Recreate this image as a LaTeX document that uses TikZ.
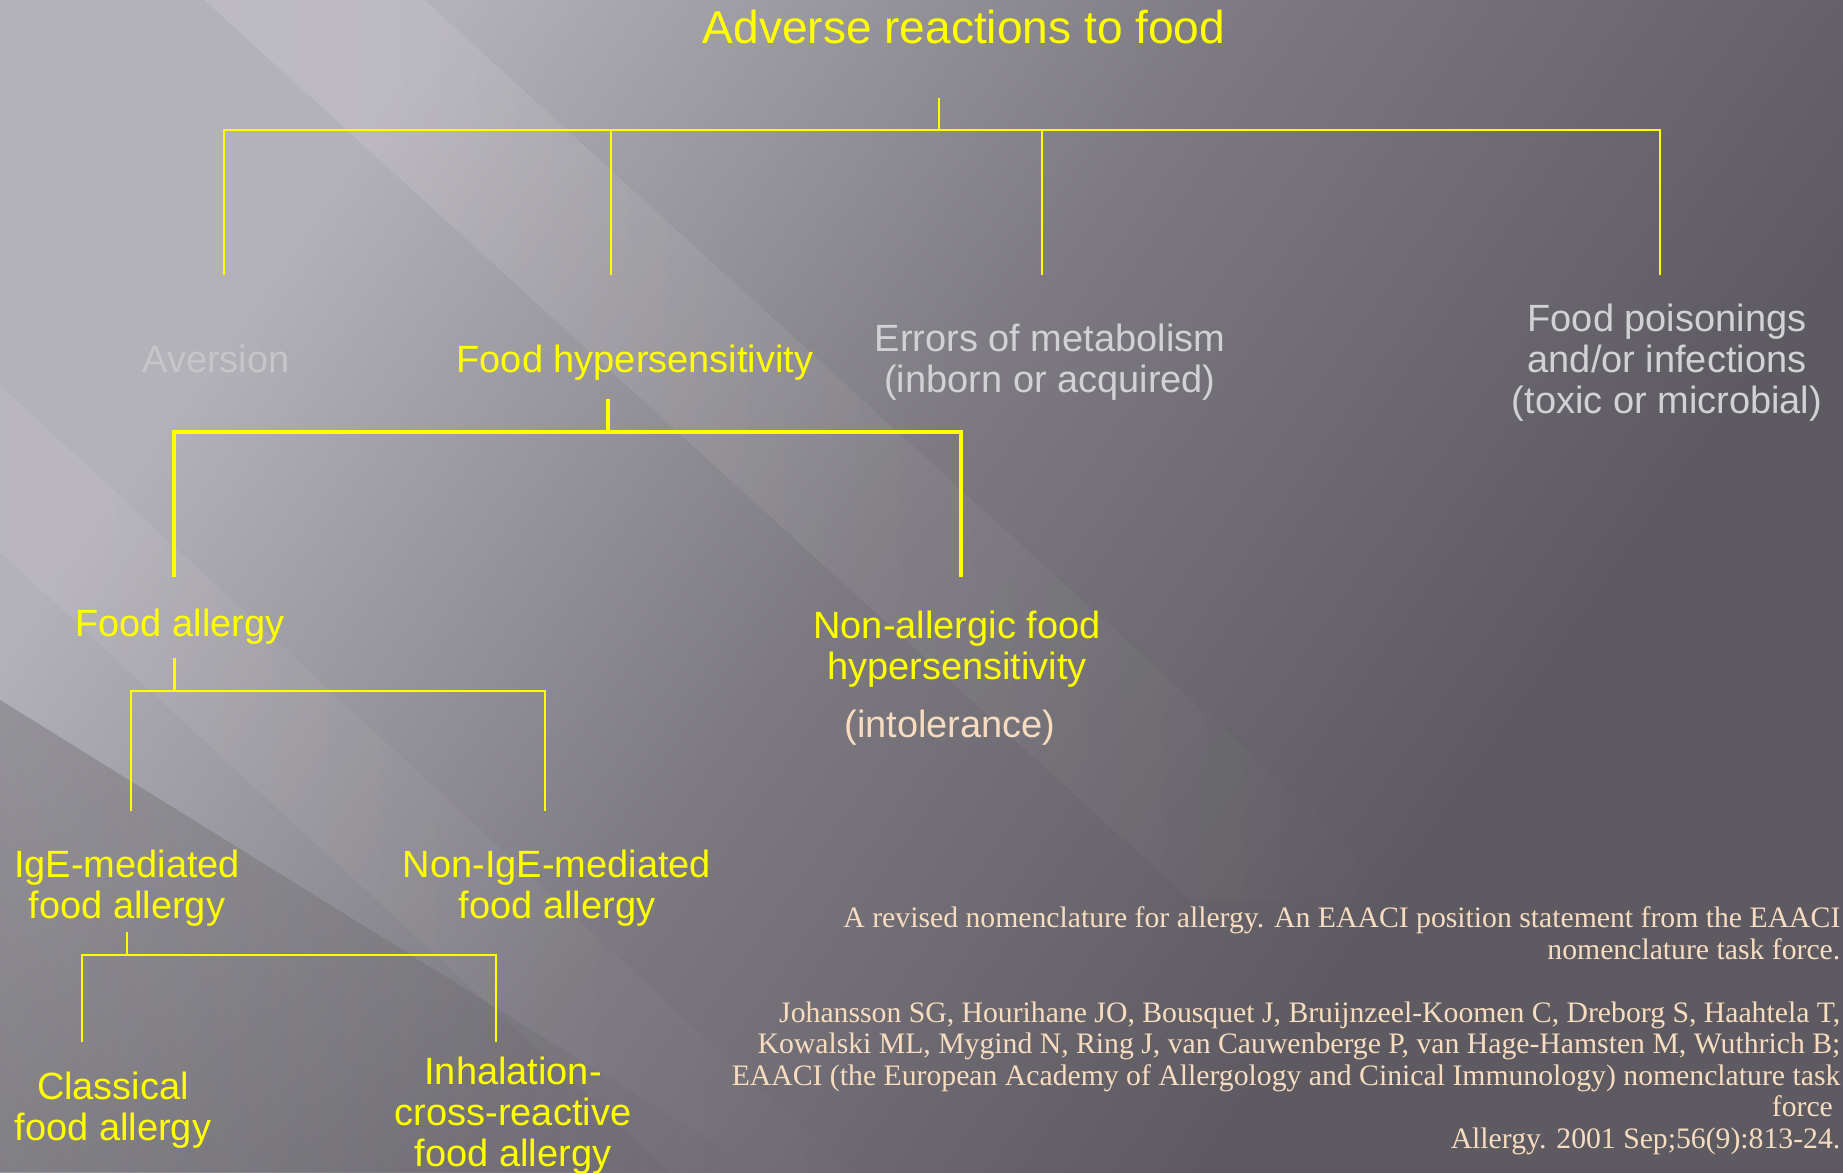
\documentclass[tikz,border=0pt]{standalone}
\usepackage{fontspec}
\setmainfont{Liberation Sans}
\newfontfamily\citefont{Liberation Serif}
\usetikzlibrary{positioning,fadings}
\definecolor{Lemon}{HTML}{FFFF00}
\definecolor{Mist}{HTML}{D2D1D5}
\definecolor{Faint}{HTML}{C6C5CA}
\definecolor{Peach}{HTML}{F8DCC0}
\definecolor{BgLight}{HTML}{B4B2B9}
\definecolor{BgMid}{HTML}{7C7A80}
\definecolor{BgDark}{HTML}{5D5B61}
\pgfdeclarehorizontalshading{slide}{100bp}{color(0bp)=(BgLight); color(27bp)=(BgLight);
  color(48bp)=(BgMid); color(68bp)=(BgDark); color(100bp)=(BgDark)}
\tikzfading[name=streakfade,left color=transparent!0,middle color=transparent!30,right color=transparent!100]

\begin{document}
\begin{tikzpicture}[x=0.01cm,y=-0.01cm,
    lbl/.style={inner sep=0pt,align=center,font=\fontsize{10.8}{11.7}\selectfont},
    yel/.style={lbl,text=Lemon},
    grey/.style={lbl,text=Mist},
    cite/.style={inner sep=0pt,align=right,text=Peach,font=\citefont\fontsize{8.45}{8.96}\selectfont},
    link/.style={draw=Lemon,line width=0.6pt},
    trunk/.style={draw=Lemon,line width=1.2pt},
    streak/.style={path fading=streakfade}]
  % background
  \useasboundingbox (0,0) rectangle (1843,1172);
  \clip (0,0) rectangle (1843,1172);
  \shade[shading=slide,shading angle=-35] (0,0) rectangle (1843,1172);
  \fill[streak,white,opacity=.14] (40,-150) -- (260,-150) -- (1410,900) -- (1190,900) -- cycle;
  \fill[streak,white,opacity=.10] (-390,190) -- (-210,190) -- (990,1300) -- (810,1300) -- cycle;
  \fill[streak,black,opacity=.16] (0,700) -- (0,1172) -- (760,1172) -- cycle;

  % labels
  \node[yel,font=\fontsize{13.1}{14}\selectfont,anchor=base] (title) at (964,43) {Adverse reactions to food};
  \node[lbl,text=Faint,anchor=base] (aversion) at (216,372) {Aversion};
  \node[yel,anchor=base] (foodhyp) at (635,372) {Food hypersensitivity};
  \node[grey] (errors) at (1050,362) {Errors of metabolism\\(inborn or acquired)};
  \node[grey] (poison) at (1667,363) {Food poisonings\\and/or infections\\(toxic or microbial)};
  \node[yel,anchor=base] (allergy) at (180,636) {Food allergy};
  \node[yel] (nonallergic) at (957,649) {Non-allergic food\\hypersensitivity};
  \node[lbl,text=Peach,anchor=base] (intol) at (950,737) {(intolerance)};
  \node[yel] (ige) at (127,888) {IgE-mediated\\food allergy};
  \node[yel] (nonige) at (557,888) {Non-IgE-mediated\\food allergy};
  \node[yel] (classical) at (113,1110) {Classical\\food allergy};
  \node[yel] (inhal) at (513,1116) {Inhalation-\\cross-reactive\\food allergy};
  \node[cite,anchor=north east] (ref) at (1841,906) {A revised nomenclature for allergy. An EAACI position statement from the EAACI\\
    nomenclature task force.\\[8.96pt]
    Johansson SG, Hourihane JO, Bousquet J, Bruijnzeel-Koomen C, Dreborg S, Haahtela T,\\
    Kowalski ML, Mygind N, Ring J, van Cauwenberge P, van Hage-Hamsten M, Wuthrich B;\\
    EAACI (the European Academy of Allergology and Cinical Immunology) nomenclature task\\
    force~~\\
    Allergy. 2001 Sep;56(9):813-24.};

  % tree brackets
  \coordinate (t-stem) at (939,98);   \coordinate (t-hub) at (939,130);
  \coordinate (t-a) at (224,275);     \coordinate (t-b) at (611,275);
  \coordinate (t-c) at (1042,275);    \coordinate (t-d) at (1660,275);
  \draw[link] (t-stem) -- (t-hub);
  \draw[link] (t-a) |- (t-hub) -| (t-d);
  \foreach \c in {t-b,t-c}\draw[link] (\c) -- (\c |- t-hub);

  \coordinate (h-stem) at (608,399);  \coordinate (h-hub) at (608,432);
  \coordinate (h-a) at (174,577);     \coordinate (h-b) at (961,577);
  \draw[trunk] (h-stem) -- (h-hub);
  \draw[trunk] (h-a) |- (h-hub) -| (h-b);

  \coordinate (f-stem) at (174.5,658); \coordinate (f-hub) at (174.5,691);
  \coordinate (f-a) at (131,811);      \coordinate (f-b) at (545,811);
  \draw[link] (f-stem) -- (f-hub);
  \draw[link] (f-a) |- (f-hub) -| (f-b);

  \coordinate (i-stem) at (127,932);  \coordinate (i-hub) at (127,955);
  \coordinate (i-a) at (82,1042);     \coordinate (i-b) at (496,1042);
  \draw[link] (i-stem) -- (i-hub);
  \draw[link] (i-a) |- (i-hub) -| (i-b);
\end{tikzpicture}
\end{document}
